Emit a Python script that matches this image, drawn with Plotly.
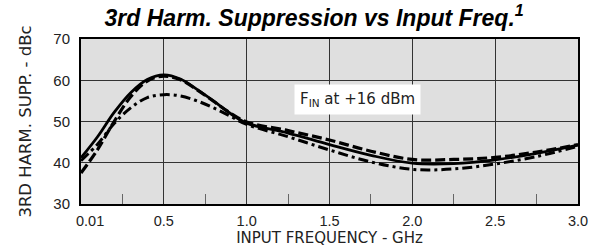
import plotly.graph_objects as go

freq = [0.0, 0.1, 0.2, 0.3, 0.4, 0.5, 0.6, 0.7, 0.8, 0.9, 1.0, 1.25, 1.5, 1.75, 2.0, 2.25, 2.5, 2.75, 3.0]
solid = [41.2, 46.3, 52.2, 57.0, 60.2, 61.3, 60.3, 57.8, 55.0, 52.0, 49.6, 47.2, 44.4, 41.8, 39.9, 39.8, 40.7, 42.3, 44.3]
dashed = [37.5, 43.2, 50.0, 56.0, 59.8, 61.0, 60.1, 57.7, 54.9, 52.1, 49.9, 47.8, 45.5, 42.8, 40.8, 40.8, 41.3, 42.6, 44.4]
dashdot = [40.5, 44.5, 49.5, 53.3, 55.8, 56.5, 56.2, 55.0, 53.3, 51.3, 49.3, 46.3, 43.1, 40.2, 38.4, 38.5, 39.7, 41.5, 44.0]

x_gridvals = [0.0, 0.5, 1.0, 1.5, 2.0, 2.5, 3.0]
x_minorvals = [0.25, 0.75, 1.25, 1.75, 2.25, 2.75]
x_labelvals = [0.055, 0.5, 1.0, 1.5, 2.0, 2.5, 3.0]
x_ticktext = ["0.01", "0.5", "1.0", "1.5", "2.0", "2.5", "3.0"]
y_tickvals = [30, 40, 50, 60, 70]

fig = go.Figure()
styles = [(solid, "solid", 2.8), (dashed, "10px,4px", 3.2), (dashdot, "10px,4px,3px,4px", 3.0)]
for ys, dash, w in styles:
    fig.add_trace(go.Scatter(x=freq, y=ys, mode="lines",
                             line=dict(color="black", width=w, dash=dash, shape="spline", smoothing=1.0),
                             showlegend=False, hoverinfo="skip"))
# empty trace so the label axis (x2) is drawn
fig.add_trace(go.Scatter(x=[], y=[], xaxis="x2", yaxis="y", showlegend=False, hoverinfo="skip"))

font = "Liberation Sans, Arial, sans-serif"
wide = "DejaVu Sans, sans-serif"
fig.update_layout(
    width=603, height=250,
    margin=dict(l=81, r=25, t=39, b=46),
    paper_bgcolor="white", plot_bgcolor="#dfdfdf",
    font=dict(family=font, size=14, color="#222"),
    title=dict(text="<b><i>3rd Harm. Suppression vs Input Freq.<sup>1</sup></i></b>",
               x=0.521, xanchor="center", xref="container", y=0.93, yanchor="middle", yref="container",
               font=dict(size=23, color="black", family=font)),
    xaxis=dict(range=[0, 3.0], tickvals=x_gridvals, showticklabels=False, showgrid=True, gridcolor="#333", gridwidth=1,
               showline=True, linecolor="black", linewidth=2, mirror=True, ticks="", zeroline=False, automargin=False,
               minor=dict(tickvals=x_minorvals, ticks="inside", ticklen=10, tickcolor="#666", tickwidth=1, showgrid=False)),
    xaxis2=dict(overlaying="x", anchor="y", side="bottom", matches="x", range=[0, 3.0],
                tickvals=x_labelvals, ticktext=x_ticktext, showgrid=False, showline=False, ticks="", zeroline=False,
                automargin=False, tickfont=dict(size=14.5, family=font, color="#222"), ticklabelstandoff=6,
                title=dict(text="INPUT FREQUENCY - GHz", standoff=3, font=dict(size=15, family=wide, color="#222"))),
    yaxis=dict(range=[30, 70], tickvals=y_tickvals, showgrid=True, gridcolor="#333", gridwidth=1,
               showline=True, linecolor="black", linewidth=2, mirror=True, ticks="", zeroline=False, automargin=False,
               ticklabelstandoff=6, tickfont=dict(size=15, family=font, color="#222"),
               title=dict(text="3RD HARM. SUPP. - dBc", standoff=18, font=dict(size=16.5, family=wide, color="#222"))),
    annotations=[dict(x=1.666, y=55.3, xref="x", yref="y", text="F<sub>IN</sub> at +16 dBm", showarrow=False,
                      bgcolor="white", font=dict(size=15, family=wide, color="#222"), borderpad=5,
                      xanchor="center", yanchor="middle")],
)
fig.write_html("out.html", post_script="document.body.style.margin='0';", config={"displayModeBar": False})
